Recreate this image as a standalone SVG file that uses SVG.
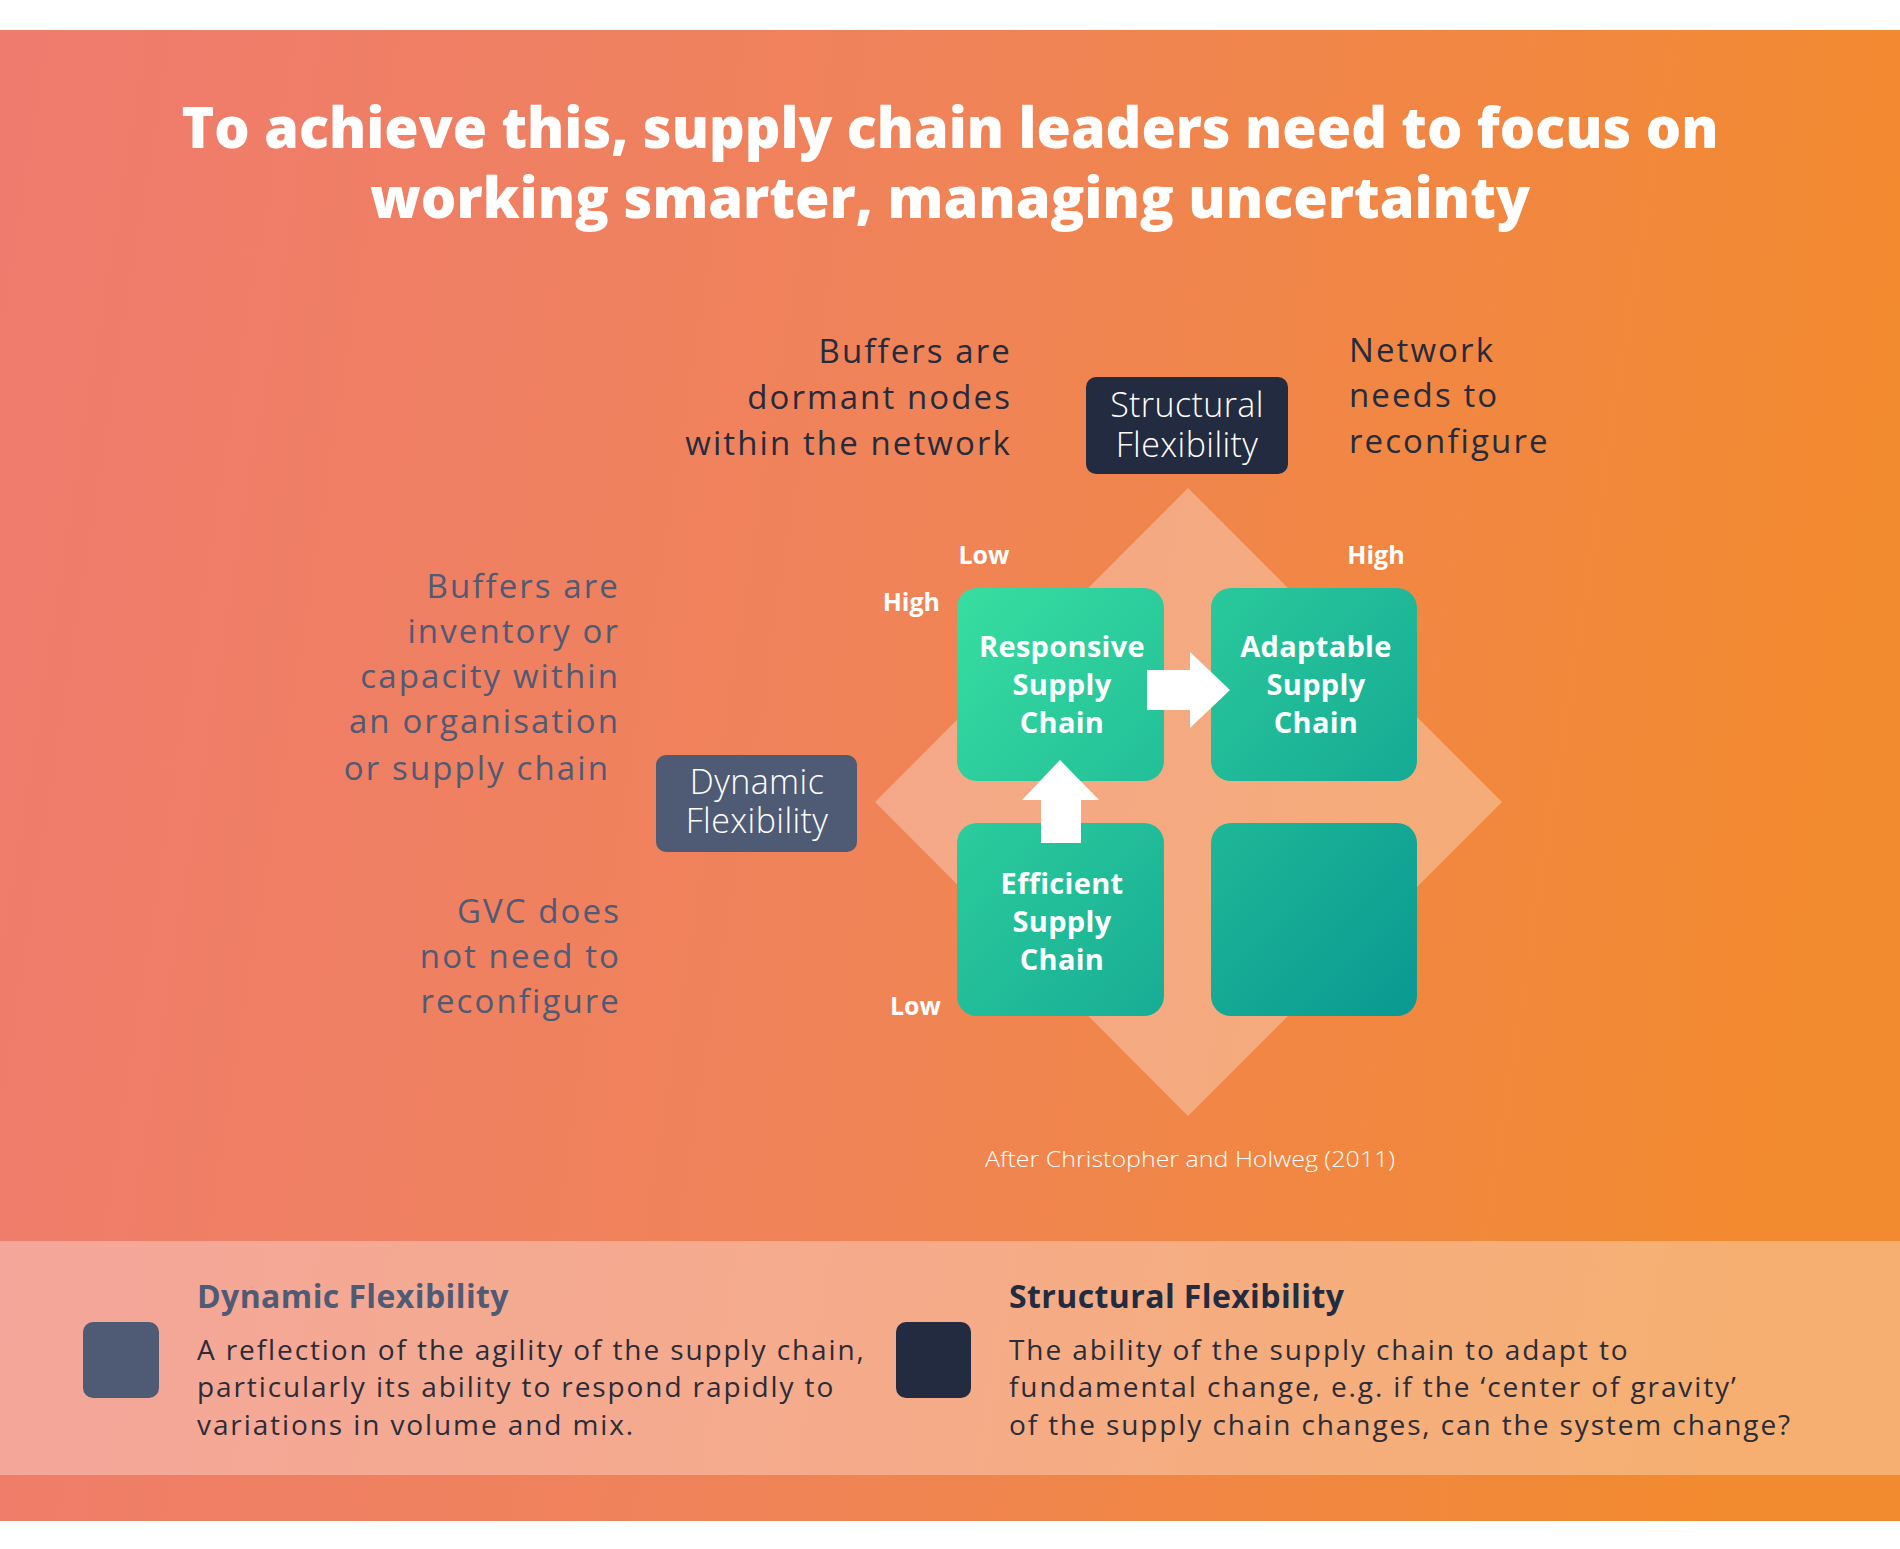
<svg xmlns="http://www.w3.org/2000/svg" width="1900" height="1549" viewBox="0 0 1900 1549">
  <defs>
    <linearGradient id="bg" x1="0" y1="0" x2="1900" y2="300" gradientUnits="userSpaceOnUse">
      <stop offset="0" stop-color="#EF7B6F"/>
      <stop offset="0.5" stop-color="#F08358"/>
      <stop offset="1" stop-color="#F28A2F"/>
    </linearGradient>
    <linearGradient id="teal" x1="957" y1="588" x2="1417" y2="1016" gradientUnits="userSpaceOnUse">
      <stop offset="0" stop-color="#37DEA0"/>
      <stop offset="1" stop-color="#0A9891"/>
    </linearGradient>
    <style>
      .sans { font-family: "Open Sans", "Liberation Sans", sans-serif; }
      .title { font-family: "Open Sans", "Liberation Sans", sans-serif; font-weight: 800; font-size: 56px; fill: #FFFFFF; }
      .note { font-family: "Open Sans", "Liberation Sans", sans-serif; font-size: 33px; font-weight: 400; letter-spacing: 2.1px; }
      .dark { fill: #262B3C; }
      .slate { fill: #4F5A75; }
      .boxlbl { font-family: "Open Sans", "Liberation Sans", sans-serif; font-size: 34px; font-weight: 300; fill: #FFFFFF; letter-spacing: 0.4px; }
      .sq { font-family: "Open Sans", "Liberation Sans", sans-serif; font-size: 29px; font-weight: 700; fill: #FFFFFF; letter-spacing: 0.3px; }
      .axis { font-family: "Open Sans", "Liberation Sans", sans-serif; font-size: 25px; font-weight: 700; fill: #FFFFFF; }
      .lh { font-family: "Open Sans", "Liberation Sans", sans-serif; font-size: 32px; font-weight: 700; letter-spacing: 0.4px; }
      .lb { font-family: "Open Sans", "Liberation Sans", sans-serif; font-size: 28px; font-weight: 400; fill: #2B2C38; letter-spacing: 1.9px; }
      .arrow { fill: #FFFFFF; }
    </style>
  </defs>

  <rect x="0" y="0" width="1900" height="1549" fill="#FFFFFF"/>
  <rect x="0" y="30" width="1900" height="1491" fill="url(#bg)"/>

  <g id="title">
    <text class="title" x="950" y="148" text-anchor="middle" textLength="1537" lengthAdjust="spacingAndGlyphs">To achieve this, supply chain leaders need to focus on</text>
    <text class="title" x="950" y="218" text-anchor="middle" textLength="1160" lengthAdjust="spacingAndGlyphs">working smarter, managing uncertainty</text>
  </g>

  <g id="diamond">
    <polygon points="1188,488 1502,802 1188,1116 875,802" fill="#FFFFFF" fill-opacity="0.3"/>
  </g>

  <g id="note-buffers-dormant">
    <text class="note dark" text-anchor="end" x="1012" y="363">Buffers are</text>
    <text class="note dark" text-anchor="end" x="1012" y="409">dormant nodes</text>
    <text class="note dark" text-anchor="end" x="1012" y="455">within the network</text>
  </g>
  <g id="note-network">
    <text class="note dark" x="1349" y="362">Network</text>
    <text class="note dark" x="1349" y="407">needs to</text>
    <text class="note dark" x="1349" y="453">reconfigure</text>
  </g>
  <g id="note-buffers-inventory">
    <text class="note slate" text-anchor="end" x="620" y="598">Buffers are</text>
    <text class="note slate" text-anchor="end" x="620" y="643">inventory or</text>
    <text class="note slate" text-anchor="end" x="620" y="688">capacity within</text>
    <text class="note slate" text-anchor="end" x="620" y="733">an organisation</text>
    <text class="note slate" text-anchor="end" x="610" y="780">or supply chain</text>
  </g>
  <g id="note-gvc">
    <text class="note slate" text-anchor="end" x="621" y="923">GVC does</text>
    <text class="note slate" text-anchor="end" x="621" y="968">not need to</text>
    <text class="note slate" text-anchor="end" x="621" y="1013">reconfigure</text>
  </g>

  <g id="structural-flexibility">
    <rect x="1086" y="377" width="202" height="97" rx="10" fill="#232B40"/>
    <text class="boxlbl" text-anchor="middle" x="1187" y="417">Structural</text>
    <text class="boxlbl" text-anchor="middle" x="1187" y="457">Flexibility</text>
  </g>
  <g id="dynamic-flexibility">
    <rect x="656" y="755" width="201" height="97" rx="10" fill="#4F5A75"/>
    <text class="boxlbl" text-anchor="middle" x="757" y="794">Dynamic</text>
    <text class="boxlbl" text-anchor="middle" x="757" y="833">Flexibility</text>
  </g>

  <g id="axis-labels">
    <text class="axis" text-anchor="middle" x="984" y="564">Low</text>
    <text class="axis" text-anchor="middle" x="1376" y="564">High</text>
    <text class="axis" text-anchor="end" x="940" y="611">High</text>
    <text class="axis" text-anchor="end" x="941" y="1015">Low</text>
  </g>

  <g id="responsive">
    <rect x="957" y="588" width="207" height="193" rx="20" fill="url(#teal)"/>
    <text class="sq" text-anchor="middle" x="1062" y="657">Responsive</text>
    <text class="sq" text-anchor="middle" x="1062" y="695">Supply</text>
    <text class="sq" text-anchor="middle" x="1062" y="733">Chain</text>
  </g>
  <g id="adaptable">
    <rect x="1211" y="588" width="206" height="193" rx="20" fill="url(#teal)"/>
    <text class="sq" text-anchor="middle" x="1316" y="657">Adaptable</text>
    <text class="sq" text-anchor="middle" x="1316" y="695">Supply</text>
    <text class="sq" text-anchor="middle" x="1316" y="733">Chain</text>
  </g>
  <g id="efficient">
    <rect x="957" y="823" width="207" height="193" rx="20" fill="url(#teal)"/>
    <text class="sq" text-anchor="middle" x="1062" y="894">Efficient</text>
    <text class="sq" text-anchor="middle" x="1062" y="932">Supply</text>
    <text class="sq" text-anchor="middle" x="1062" y="970">Chain</text>
  </g>
  <g id="empty-quadrant">
    <rect x="1211" y="823" width="206" height="193" rx="20" fill="url(#teal)"/>
  </g>

  <g id="connectors">
    <polygon class="arrow" points="1147,670 1190,670 1190,652 1230,690 1190,728 1190,710 1147,710"/>
    <polygon class="arrow" points="1041,843 1041,800 1022,800 1060,760 1099,800 1081,800 1081,843"/>
  </g>

  <g id="source">
    <text class="sans" x="1190" y="1167" text-anchor="middle" font-size="22" font-weight="300" fill="#FFFFFF" textLength="410" lengthAdjust="spacingAndGlyphs">After Christopher and Holweg (2011)</text>
  </g>

  <g id="legend">
    <rect x="0" y="1241" width="1900" height="234" fill="#FFFFFF" fill-opacity="0.32"/>
    <g id="legend-dynamic">
      <rect x="83" y="1322" width="76" height="76" rx="10" fill="#4F5A75"/>
      <text class="lh slate" x="197" y="1308">Dynamic Flexibility</text>
      <text class="lb" x="197" y="1360">A reflection of the agility of the supply chain,</text>
      <text class="lb" x="197" y="1397">particularly its ability to respond rapidly to</text>
      <text class="lb" x="197" y="1435">variations in volume and mix.</text>
    </g>
    <g id="legend-structural">
      <rect x="896" y="1322" width="75" height="76" rx="10" fill="#232B40"/>
      <text class="lh" fill="#232B40" x="1009" y="1308">Structural Flexibility</text>
      <text class="lb" x="1009" y="1360">The ability of the supply chain to adapt to</text>
      <text class="lb" x="1009" y="1397">fundamental change, e.g. if the ‘center of gravity’</text>
      <text class="lb" x="1009" y="1435">of the supply chain changes, can the system change?</text>
    </g>
  </g>
</svg>
